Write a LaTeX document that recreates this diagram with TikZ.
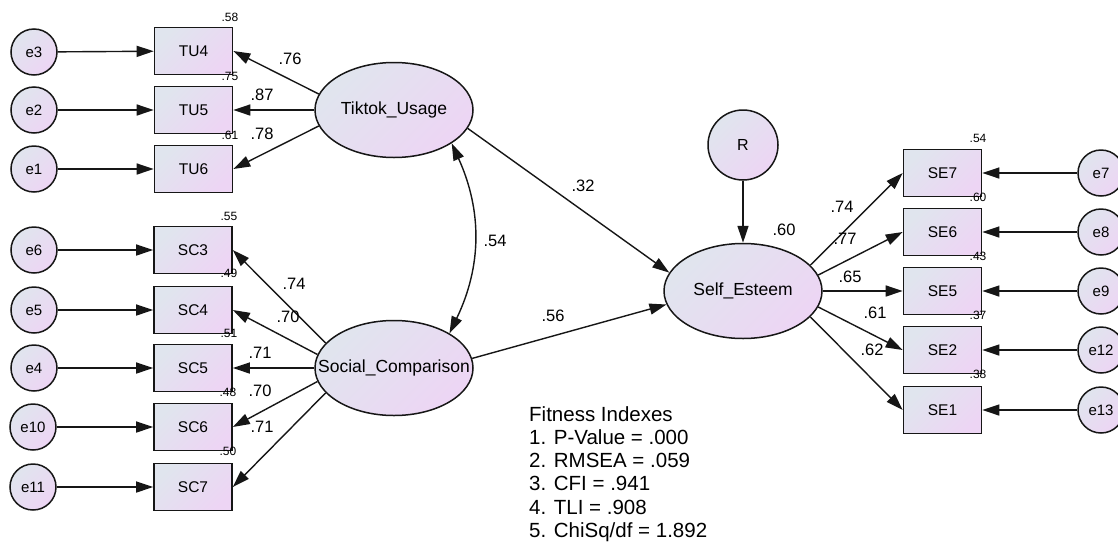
\documentclass[tikz,border=0pt]{standalone}
\usepackage{fontspec}
\setmainfont{Liberation Sans}
\usetikzlibrary{arrows.meta,shapes.geometric}
\definecolor{fillL}{RGB}{224,229,238}
\definecolor{fillR}{RGB}{237,213,244}
\definecolor{ink}{RGB}{22,22,22}
\newcommand{\lattext}[1]{\makebox[0pt]{#1}}
\begin{document}
\begin{tikzpicture}[x=1pt,y=-1pt,
  shadefill/.style={left color=fillL,right color=fillR,shading angle=45},
  obs/.style={rectangle,draw=ink,line width=1.6pt,minimum width=78pt,minimum height=47pt,inner sep=0pt,shadefill,font=\fontsize{15.5}{18}\selectfont},
  lat/.style={ellipse,draw=ink,line width=1.5pt,minimum width=158pt,minimum height=95pt,inner sep=0pt,shadefill,font=\fontsize{17.5}{20}\selectfont},
  err/.style={circle,draw=ink,line width=1.5pt,minimum size=46pt,inner sep=0pt,shadefill,font=\fontsize{15}{18}\selectfont},
  res/.style={circle,draw=ink,line width=1.5pt,minimum size=70pt,inner sep=0pt,shadefill,font=\fontsize{16}{18}\selectfont},
  arr/.style={draw=ink,line width=1.4pt,-{Triangle[length=17pt,width=11pt]}},
  dbl/.style={draw=ink,line width=1.4pt,{Triangle[length=17pt,width=11pt]}-{Triangle[length=17pt,width=11pt]}},
  lbl/.style={inner sep=0pt,font=\fontsize{16.5}{18}\selectfont},
  sm/.style={inner sep=0pt,font=\fontsize{12}{14}\selectfont}
]
\useasboundingbox (0,0) rectangle (1118,552);
\fill[white] (0,0) rectangle (1118,552);

% latent variables
\node[lat] (TU) at (394,110) {\lattext{Tiktok\_Usage}};
\node[lat] (SC) at (394,368) {\lattext{Social\_Comparison}};
\node[lat] (SE) at (743,291) {\lattext{Self\_Esteem}};
\node[res] (R) at (743,145) {R};

% Tiktok usage indicators
\node[obs] (TU4) at (193.5,51) {TU4};
\node[obs] (TU5) at (193.5,110) {TU5};
\node[obs] (TU6) at (193.5,169) {TU6};
\node[err] (e3) at (34,52) {e3};
\node[err] (e2) at (34,110) {e2};
\node[err] (e1) at (34,169) {e1};

% social comparison indicators
\node[obs] (SC3) at (193,250) {SC3};
\node[obs] (SC4) at (193,310) {SC4};
\node[obs] (SC5) at (193,368) {SC5};
\node[obs] (SC6) at (193,427) {SC6};
\node[obs] (SC7) at (193,487) {SC7};
\node[err] (e6) at (34,250) {e6};
\node[err] (e5) at (34,310) {e5};
\node[err] (e4) at (34,368) {e4};
\node[err] (e10) at (33,427) {e10};
\node[err] (e11) at (33,487) {e11};

% self esteem indicators
\node[obs] (SE7) at (942.5,173) {SE7};
\node[obs] (SE6) at (942.5,232) {SE6};
\node[obs] (SE5) at (942.5,291) {SE5};
\node[obs] (SE2) at (942.5,350) {SE2};
\node[obs] (SE1) at (942.5,410) {SE1};
\node[err] (e7) at (1101,173) {e7};
\node[err] (e8) at (1101,232) {e8};
\node[err] (e9) at (1101,291) {e9};
\node[err] (e12) at (1101,350) {e12};
\node[err] (e13) at (1101,410) {e13};

% error arrows
\foreach \e/\b in {e3/TU4,e2/TU5,e1/TU6,e6/SC3,e5/SC4,e4/SC5,e10/SC6,e11/SC7,e7/SE7,e8/SE6,e9/SE5,e12/SE2,e13/SE1}
  \draw[arr] (\e) -- (\b);

% loadings
\draw[arr] (TU.168) -- (TU4.east);
\draw[arr] (TU.west) -- (TU5.east);
\draw[arr] (TU.192) -- (TU6.east);
\draw[arr] (SC.160) -- (SC3.east);
\draw[arr] (SC.170) -- (SC4.east);
\draw[arr] (SC.west) -- (SC5.east);
\draw[arr] (SC.190) -- (SC6.east);
\draw[arr] (SC.200) -- (SC7.east);
\draw[arr] (SE.21) -- (SE7.west);
\draw[arr] (SE.12) -- (SE6.west);
\draw[arr] (SE.east) -- (SE5.west);
\draw[arr] (SE.-12) -- (SE2.west);
\draw[arr] (SE.-21) -- (SE1.west);

% structural paths
\draw[arr] (TU.-14) -- (SE.166);
\draw[arr] (SC.7) -- (SE.190);
\draw[arr] (R) -- (SE);
\draw[dbl] (TU.-30) to[bend left=25] (SC.32);

% squared multiple correlations
\node[sm] (r58) at (230,17) {.58};
\node[sm] (r75) at (230,76) {.75};
\node[sm] (r61) at (230,135) {.61};
\node[sm] (r55) at (229,216) {.55};
\node[sm] (r49) at (229,273) {.49};
\node[sm] (r51) at (229,333) {.51};
\node[sm] (r48) at (228,392) {.48};
\node[sm] (r50) at (228,451) {.50};
\node[sm] (s54) at (978,138) {.54};
\node[sm] (s60) at (978,197) {.60};
\node[sm] (s43) at (978,256) {.43};
\node[sm] (s37) at (978,315) {.37};
\node[sm] (s38) at (978,374) {.38};

% path coefficients
\node[lbl] (l76) at (290,59) {.76};
\node[lbl] (l87) at (262,95) {.87};
\node[lbl] (l78) at (262,134) {.78};
\node[lbl] (l74) at (294,284) {.74};
\node[lbl] (l70a) at (288,317) {.70};
\node[lbl] (l71a) at (260,353) {.71};
\node[lbl] (l70b) at (260,391) {.70};
\node[lbl] (l71b) at (262,427) {.71};
\node[lbl] (l54) at (495,241) {.54};
\node[lbl] (l32) at (583,186) {.32};
\node[lbl] (l56) at (553,316) {.56};
\node[lbl] (l60) at (784,230) {.60};
\node[lbl] (m74) at (842,207) {.74};
\node[lbl] (m77) at (845,239) {.77};
\node[lbl] (m65) at (850,277) {.65};
\node[lbl] (m61) at (875,313) {.61};
\node[lbl] (m62) at (872,350) {.62};

% fitness indexes
\node[anchor=north west,align=left,inner sep=0pt,font=\fontsize{20.5}{23.3}\selectfont] (fit) at (529,406)
  {Fitness Indexes\\1. P-Value = .000\\2. RMSEA = .059\\3. CFI = .941\\4. TLI = .908\\5. ChiSq/df = 1.892};
\end{tikzpicture}
\end{document}
